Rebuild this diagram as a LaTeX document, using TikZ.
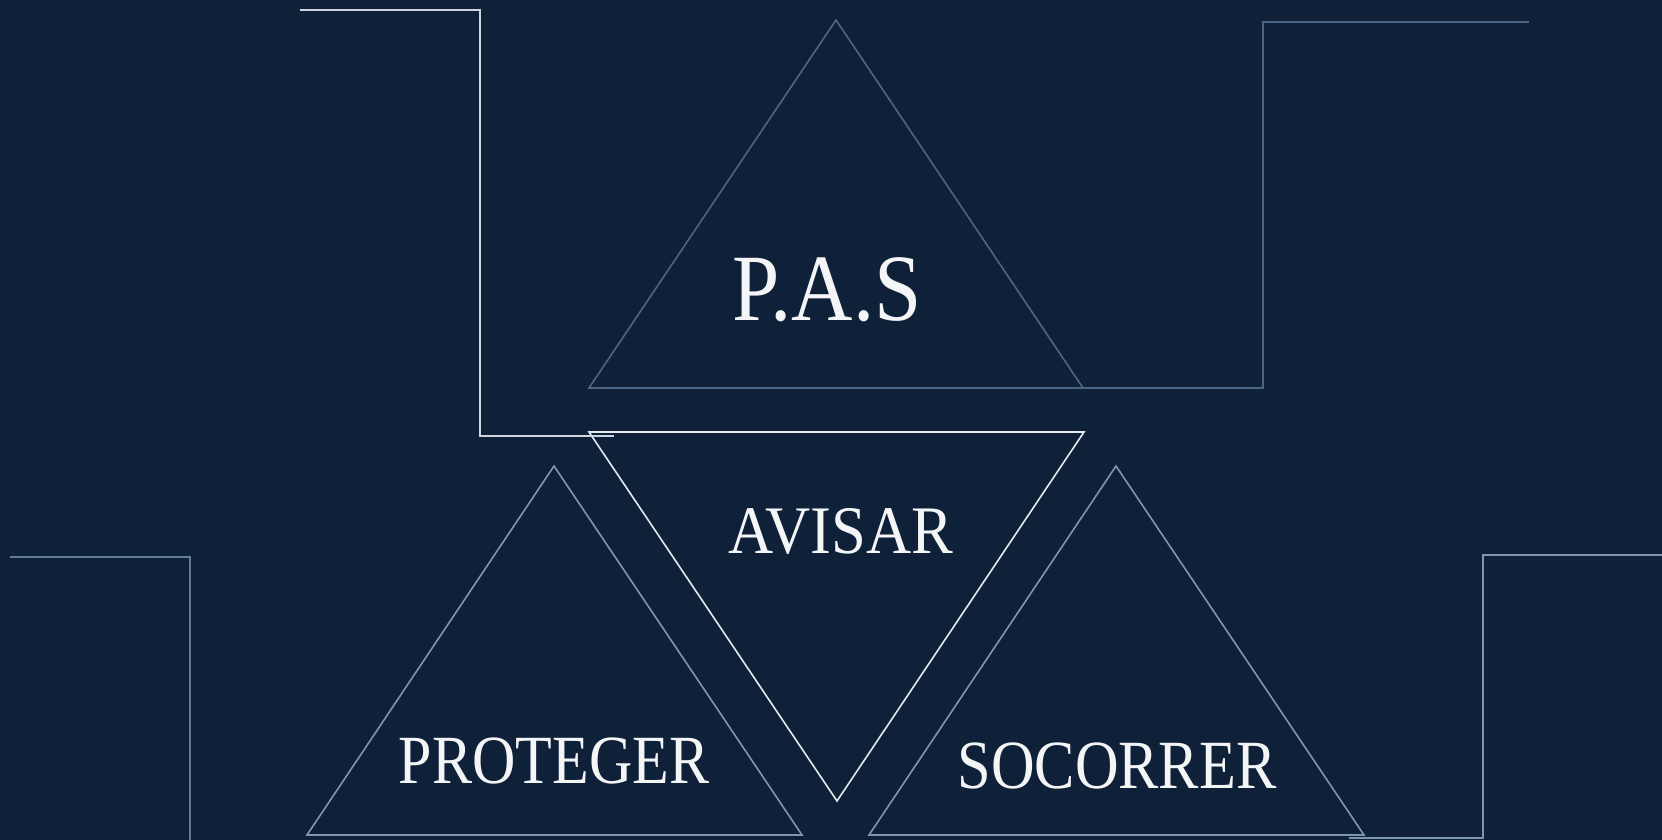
\documentclass[tikz,border=0pt]{standalone}
\usepackage{fontspec}
\setmainfont{Liberation Serif}
\definecolor{bg}{HTML}{0F2139}
\definecolor{dimline}{HTML}{4B6684}
\definecolor{midline}{HTML}{7B97B3}
\definecolor{brightline}{HTML}{E3E9EF}
\definecolor{paleline}{HTML}{CDD6DF}
\definecolor{blline}{HTML}{5E7B99}
\definecolor{txt}{HTML}{F4F5F7}
\tikzset{
  tri/.style={line width=1.6pt, line join=miter},
  conn/.style={line width=1.8pt},
  lbl/.style={text=txt, anchor=base, inner sep=0pt},
}
\begin{document}
\begin{tikzpicture}[x=1pt,y=-1pt]
\fill[bg] (0,0) rectangle (1662,840);
\useasboundingbox (0,0) rectangle (1662,840);
% triangle vertices
\coordinate (pasA) at (836,20);
\coordinate (pasL) at (589,388);
\coordinate (pasR) at (1083,388);
\coordinate (avL) at (589,432);
\coordinate (avR) at (1084,432);
\coordinate (avB) at (837,801);
\coordinate (prA) at (554,466);
\coordinate (prL) at (307,835);
\coordinate (prR) at (802,835);
\coordinate (soA) at (1116,466);
\coordinate (soL) at (869,835);
\coordinate (soR) at (1364,835);
% connector points
\coordinate (tl0) at (300,10);
\coordinate (tl1) at (480,10);
\coordinate (tl2) at (480,436);
\coordinate (tl3) at (614,436);
\coordinate (tr1) at (1263,388);
\coordinate (tr2) at (1263,22);
\coordinate (tr3) at (1529,22);
\coordinate (bl0) at (10,557);
\coordinate (bl1) at (190,557);
\coordinate (bl2) at (190,840);
\coordinate (br0) at (1662,555);
\coordinate (br1) at (1483,555);
\coordinate (br2) at (1483,838);
\coordinate (br3) at (1349,838);
% triangles
\draw[tri, dimline] (pasA) -- (pasL) -- (pasR) -- cycle;
\draw[tri, brightline] (avL) -- (avR) -- (avB) -- cycle;
\draw[tri, midline] (prA) -- (prL) -- (prR) -- cycle;
\draw[tri, midline] (soA) -- (soL) -- (soR) -- cycle;
% connectors
\draw[conn, paleline] (tl0) -- (tl1) -- (tl2) -- (tl3);
\draw[conn, dimline] (pasR) -- (tr1) -- (tr2) -- (tr3);
\draw[conn, blline] (bl0) -- (bl1) -- (bl2);
\draw[conn, midline] (br0) -- (br1) -- (br2) -- (br3);
% labels
\node[lbl, xscale=0.895] (pas) at (827,320) {\fontsize{95}{100}\selectfont P.A.S};
\node[lbl, xscale=0.92] (avisar) at (841,553) {\fontsize{68}{72}\selectfont AVISAR};
\node[lbl, xscale=0.87] (proteger) at (554,783) {\fontsize{69}{72}\selectfont PROTEGER};
\node[lbl, xscale=0.875] (socorrer) at (1117,788) {\fontsize{69}{72}\selectfont SOCORRER};
\end{tikzpicture}
\end{document}
